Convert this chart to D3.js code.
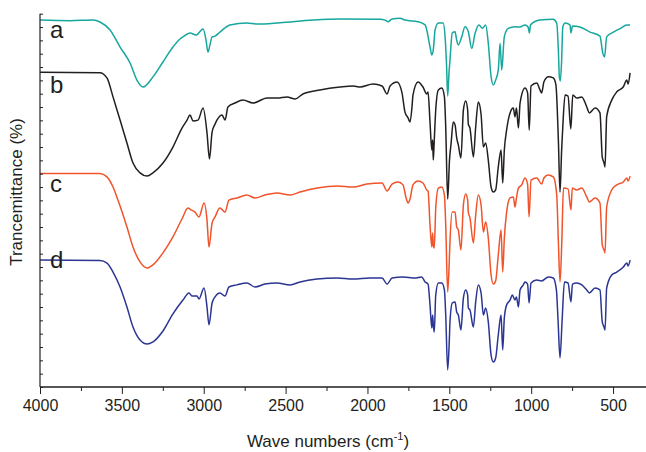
<!DOCTYPE html>
<html><head><meta charset="utf-8">
<script src="https://cdn.jsdelivr.net/npm/d3@7"></script>
<style>
html,body{margin:0;padding:0;background:#fff;}
svg{display:block;font-family:"Liberation Sans",Arial,Helvetica,sans-serif;}
</style></head>
<body><div id="chart"></div>
<script>
// ---- data (wavenumber cm-1, transmittance in offset arbitrary units) ----
const seriesLabels = ["a", "b", "c", "d"];
const seriesColors = ["#16a79e", "#231f20", "#f1532a", "#2b3592"];
const xTickMajor = [4000, 3500, 3000, 2500, 2000, 1500, 1000, 500];

const specA = [[4000,137.6],[3817,137.4],[3676,137.6],[3634,136.9],[3572,133.9],[3511,127.5],[3450,121.5],[3408,115.1],[3371,112.5],[3310,116.3],[3249,121.9],[3188,127.5],[3145,130.5],[3127,131.3],[3084,132.8],[3047,132.0],[3004,134.3],[2986,130.1],[2974,125.6],[2962,128.3],[2949,131.3],[2931,131.6],[2901,133.1],[2840,135.8],[2736,136.5],[2675,136.1],[2534,136.6],[2333,137.6],[2168,138.0],[1923,137.9],[1892,137.6],[1874,137.0],[1850,138.0],[1801,138.3],[1771,137.6],[1691,137.0],[1648,135.8],[1618,127.6],[1607,124.5],[1598,126.4],[1587,133.9],[1567,136.5],[1538,136.5],[1526,131.4],[1517,120.8],[1510,109.1],[1502,117.8],[1496,122.6],[1482,132.8],[1465,133.2],[1455,130.1],[1445,128.3],[1424,131.4],[1404,135.1],[1384,133.2],[1363,127.0],[1343,132.6],[1319,135.8],[1298,134.5],[1278,135.8],[1262,128.9],[1245,116.4],[1231,113.3],[1217,115.1],[1201,118.9],[1190,128.9],[1180,118.9],[1164,131.4],[1140,134.5],[1099,135.1],[1068,135.0],[1038,135.8],[1019,135.0],[1011,132.8],[1004,135.8],[946,137.6],[866,137.9],[844,136.4],[834,126.4],[828,116.3],[822,114.8],[814,122.6],[807,135.0],[793,136.5],[763,135.8],[757,132.8],[748,135.4],[702,135.0],[641,133.1],[580,131.6],[563,125.3],[552,123.8],[539,131.3],[498,133.1],[457,134.4],[416,135.8],[396,135.8]];

const specB = [[4000,118.0],[3634,117.9],[3591,115.9],[3554,108.8],[3511,100.1],[3469,91.5],[3432,84.0],[3389,80.3],[3346,79.1],[3310,80.3],[3249,84.0],[3188,90.0],[3133,97.1],[3102,100.1],[3084,102.0],[3065,99.8],[3035,100.1],[3004,104.6],[2980,95.3],[2965,85.5],[2949,95.6],[2931,98.6],[2888,102.0],[2870,100.1],[2852,105.0],[2809,106.5],[2760,107.6],[2699,106.5],[2613,108.4],[2552,108.4],[2491,108.8],[2442,108.0],[2394,109.9],[2290,111.4],[2168,112.5],[2088,112.9],[2045,112.5],[1966,113.6],[1911,112.9],[1880,109.9],[1862,112.9],[1819,114.4],[1789,110.3],[1771,103.1],[1752,100.9],[1740,99.4],[1728,105.0],[1722,109.5],[1691,114.4],[1661,112.5],[1638,109.9],[1630,110.6],[1618,99.4],[1607,88.9],[1602,92.6],[1598,85.1],[1592,92.6],[1583,103.9],[1567,111.4],[1546,112.1],[1530,108.8],[1522,97.5],[1510,70.5],[1499,85.1],[1489,91.5],[1476,99.4],[1465,98.3],[1455,93.4],[1445,90.8],[1429,85.9],[1414,103.9],[1400,107.3],[1388,103.9],[1384,98.6],[1374,97.1],[1353,86.3],[1339,97.5],[1323,106.9],[1306,102.2],[1292,90.0],[1278,91.5],[1262,85.1],[1245,75.0],[1231,73.1],[1217,73.9],[1201,82.5],[1184,88.9],[1174,76.5],[1164,88.9],[1150,96.4],[1129,102.8],[1109,104.6],[1099,101.3],[1090,104.6],[1078,97.1],[1068,106.5],[1038,112.1],[1022,110.3],[1012,96.4],[1001,112.9],[966,114.0],[946,111.4],[936,110.3],[922,114.5],[895,116.4],[865,115.9],[849,113.3],[834,92.6],[824,73.1],[814,88.9],[807,97.6],[793,109.5],[775,109.1],[758,96.8],[746,109.5],[722,108.4],[691,108.8],[661,105.1],[645,102.8],[610,104.6],[580,102.8],[566,86.3],[555,84.0],[549,82.5],[539,101.4],[508,107.6],[477,110.7],[437,112.6],[416,115.1],[408,113.6],[396,117.8]];

const specC = [[4000,80.1],[3634,80.1],[3591,78.8],[3554,75.0],[3524,70.1],[3469,60.0],[3432,52.5],[3389,46.9],[3346,44.6],[3310,45.8],[3249,50.3],[3188,56.3],[3133,63.0],[3096,67.1],[3078,66.4],[3053,65.6],[3029,63.8],[2998,69.0],[2980,62.6],[2968,52.5],[2949,61.5],[2931,63.8],[2901,67.1],[2870,65.6],[2846,70.1],[2797,70.9],[2736,72.0],[2687,70.9],[2626,72.0],[2552,72.8],[2473,72.0],[2412,73.1],[2308,74.6],[2186,75.4],[2088,75.0],[2003,76.1],[1911,76.5],[1880,73.5],[1850,76.1],[1813,76.9],[1783,75.8],[1764,70.9],[1752,69.0],[1740,70.5],[1722,75.8],[1691,77.3],[1661,76.5],[1638,73.9],[1630,73.5],[1618,60.8],[1607,52.5],[1602,57.8],[1598,53.3],[1592,52.1],[1583,67.1],[1567,74.6],[1546,75.0],[1530,72.0],[1522,60.8],[1510,35.6],[1500,47.6],[1496,54.4],[1482,65.6],[1465,65.6],[1455,60.0],[1445,58.9],[1429,51.4],[1414,68.3],[1400,72.4],[1388,70.1],[1384,65.6],[1374,63.4],[1353,54.0],[1339,64.5],[1323,72.0],[1306,68.3],[1292,58.1],[1278,61.9],[1262,55.9],[1245,42.0],[1231,38.6],[1217,39.8],[1201,49.5],[1184,58.9],[1174,43.1],[1164,55.9],[1150,65.6],[1129,70.9],[1109,71.3],[1099,67.5],[1090,70.9],[1078,74.6],[1058,75.8],[1038,78.4],[1022,76.1],[1013,63.8],[1001,77.6],[966,78.4],[936,76.1],[922,78.4],[897,79.5],[865,78.8],[844,72.0],[834,54.4],[824,39.4],[813,54.4],[803,74.6],[775,74.3],[757,66.4],[749,74.6],[722,73.9],[691,74.6],[661,71.3],[645,69.4],[610,70.9],[580,69.0],[566,53.3],[555,51.4],[549,50.3],[539,67.5],[508,73.9],[477,75.8],[437,76.9],[416,78.4],[408,77.3],[396,79.1]];

const specD = [[4000,47.6],[3634,47.4],[3591,46.5],[3554,43.1],[3511,37.5],[3469,30.0],[3432,22.5],[3389,17.6],[3346,16.1],[3310,16.9],[3249,21.0],[3188,27.4],[3127,32.6],[3090,35.3],[3072,34.1],[3041,34.1],[3029,33.0],[2998,37.1],[2980,30.0],[2968,23.3],[2949,31.5],[2931,33.8],[2901,35.3],[2870,34.1],[2846,37.5],[2797,38.3],[2736,39.0],[2687,37.5],[2626,38.6],[2552,39.0],[2473,38.3],[2412,39.4],[2308,40.5],[2186,40.9],[2088,40.5],[1984,40.9],[1911,40.9],[1880,38.6],[1850,40.9],[1783,41.3],[1710,40.9],[1669,41.3],[1648,39.4],[1630,38.6],[1618,30.8],[1607,22.1],[1602,27.0],[1598,23.3],[1592,20.6],[1583,34.5],[1567,39.0],[1546,39.0],[1530,36.4],[1522,27.0],[1510,6.4],[1500,17.6],[1496,24.4],[1482,31.5],[1465,31.9],[1455,28.1],[1445,27.0],[1429,21.4],[1414,33.4],[1400,36.4],[1388,34.5],[1384,29.6],[1374,28.9],[1353,22.5],[1339,31.9],[1323,38.3],[1306,35.3],[1292,27.0],[1278,29.6],[1262,24.4],[1245,12.0],[1231,9.4],[1217,10.9],[1201,19.5],[1184,27.0],[1174,13.9],[1164,25.9],[1150,30.8],[1129,32.6],[1115,34.5],[1099,32.6],[1090,33.8],[1078,30.0],[1068,36.4],[1048,38.3],[1038,39.4],[1022,38.6],[1013,31.5],[1001,39.0],[966,40.1],[936,39.8],[895,41.3],[865,40.9],[846,36.4],[836,25.1],[824,10.9],[811,25.1],[797,39.4],[775,39.0],[757,31.9],[748,38.6],[722,39.0],[691,38.3],[661,36.4],[645,35.3],[610,37.1],[580,36.4],[566,24.4],[555,22.5],[549,21.4],[539,37.1],[508,42.0],[477,43.1],[437,45.0],[416,46.5],[408,45.4],[396,47.6]];

const spectra = [specA, specB, specC, specD];

// ---- layout ----
const W = 646, H = 452;
const svg = d3.select("#chart").append("svg").attr("width", W).attr("height", H);

const x = d3.scaleLinear().domain([4000, 300]).range([40, 645.8]);
const y = d3.scaleLinear().domain([0, 140]).range([387, 13.7]);

const line = d3.line().x(d => x(d[0])).y(d => y(d[1])).curve(d3.curveMonotoneX);

spectra.forEach((s, i) => {
  svg.append("path").datum(s)
    .attr("fill", "none")
    .attr("stroke", seriesColors[i])
    .attr("stroke-width", 1.5)
    .attr("stroke-linejoin", "round")
    .attr("d", line);
});

// labels a-d at the start of each curve
spectra.forEach((s, i) => {
  svg.append("text")
    .attr("x", 50)
    .attr("y", y(s[0][1]) + [18, 21, 19, 8][i])
    .attr("font-size", 24)
    .attr("fill", "#231f20")
    .text(seriesLabels[i]);
});

// x axis
const minorTicks = d3.range(4000, 300, -250);
const xAxisMinor = d3.axisBottom(x).tickValues(minorTicks.filter(v => v % 500 !== 0)).tickSize(4).tickFormat("");
const xAxisMajor = d3.axisBottom(x).tickValues(xTickMajor).tickSize(7).tickPadding(6).tickFormat(d3.format("d"));
const gx1 = svg.append("g").attr("transform", "translate(0,387)").call(xAxisMinor);
const gx2 = svg.append("g").attr("transform", "translate(0,387)").call(xAxisMajor);
[gx1, gx2].forEach(g => {
  g.select(".domain").attr("stroke", "#231f20").attr("stroke-width", 1.2);
  g.selectAll(".tick line").attr("stroke", "#231f20").attr("stroke-width", 1);
});
gx2.selectAll(".tick text").attr("font-size", 16).attr("fill", "#231f20")
  .attr("font-family", "Liberation Sans, Arial, sans-serif");
gx1.select(".domain").attr("d", "M40,0H646");
gx2.select(".domain").attr("d", "M40,0H646");

// y axis (no labels, inward ticks)
const yAxis = d3.axisRight(y).tickValues(d3.range(0, 141, 5)).tickSize(3).tickFormat("");
const gy = svg.append("g").attr("transform", "translate(40,0)").call(yAxis);
gy.select(".domain").attr("stroke", "#231f20").attr("stroke-width", 1.2).attr("d", "M0," + y(140) + "V387");
gy.selectAll(".tick line").attr("stroke", "#231f20");

// axis titles
const xt = svg.append("text").attr("x", 328).attr("y", 447).attr("text-anchor", "middle")
  .attr("font-size", 17).attr("fill", "#231f20");
xt.append("tspan").text("Wave numbers (cm");
xt.append("tspan").attr("font-size", 11).attr("dy", -7).text("-1");
xt.append("tspan").attr("dy", 7).text(")");

svg.append("text").attr("transform", "translate(22,192) rotate(-90)")
  .attr("text-anchor", "middle").attr("font-size", 17).attr("fill", "#231f20")
  .text("Trancemittance (%)");
</script>
</body></html>
